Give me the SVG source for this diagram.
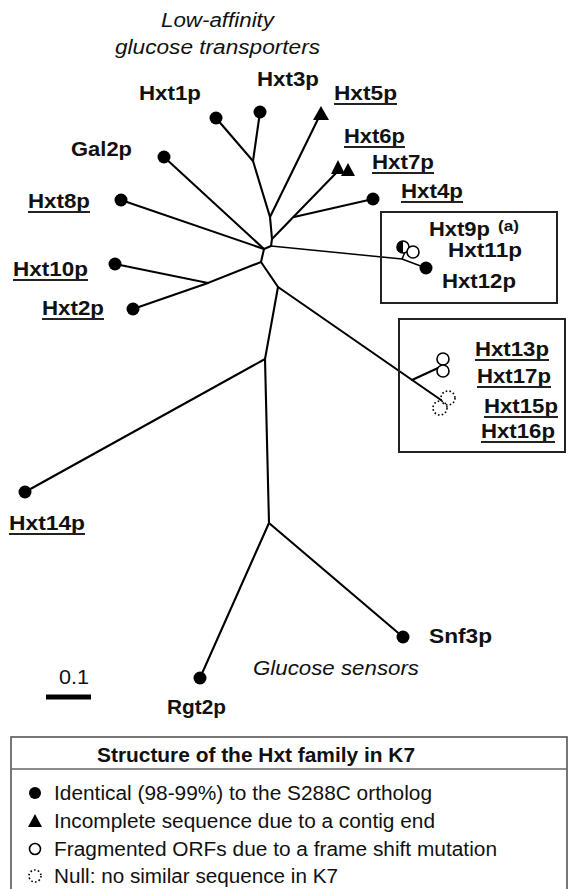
<svg xmlns="http://www.w3.org/2000/svg" width="568" height="889" viewBox="0 0 568 889">
<style>
text{font-family:"Liberation Sans",Arial,sans-serif;fill:#111}
.b{font-weight:bold;font-size:20.5px}
.it{font-style:italic;font-size:20.5px}
.lg{font-size:20px}
.br{stroke:#000;stroke-width:2.1;fill:none;stroke-linecap:round}
.thin{stroke:#000;stroke-width:1.5;fill:none}
.ul{stroke:#222;stroke-width:1.8}
.dot{fill:#000}
.open{fill:#fff;stroke:#000;stroke-width:1.6}
.null{fill:none;stroke:#000;stroke-width:1.6;stroke-dasharray:1.6 2.2}
.tri{fill:#000}
.box{fill:none;stroke:#222;stroke-width:2}
</style>
<rect width="568" height="889" fill="#fff"/>
<g id="captions">
<text class="it" x="161" y="27" textLength="113" lengthAdjust="spacingAndGlyphs">Low-affinity</text>
<text class="it" x="115" y="54" textLength="205" lengthAdjust="spacingAndGlyphs">glucose transporters</text>
<text class="it" x="253" y="675" textLength="166" lengthAdjust="spacingAndGlyphs">Glucose sensors</text>
</g>
<g id="connectors">
<polyline class="br" points="264,249 271,246 272,239 270,217 253,161 216,118"/>
<line class="br" x1="253" y1="161" x2="260" y2="112"/>
<line class="br" x1="270" y1="217" x2="320" y2="115"/>
<line class="br" x1="272" y1="239" x2="339" y2="170"/>
<line class="br" x1="294" y1="217" x2="373" y2="199"/>
<line class="br" x1="264" y1="249" x2="164" y2="157"/>
<line class="br" x1="264" y1="249" x2="121" y2="200"/>
<polyline class="br" points="264,249 261,262 208,283 115,264"/>
<line class="br" x1="208" y1="283" x2="133" y2="309"/>
<polyline class="br" points="261,262 278,287 265,359 269,523 403,637"/>
<line class="br" x1="269" y1="523" x2="200" y2="678"/>
<line class="br" x1="265" y1="359" x2="25" y2="492"/>
<line class="br" x1="278" y1="287" x2="441" y2="400"/>
<line class="br" x1="412" y1="380" x2="438" y2="368"/>
<polyline class="thin" points="271,246 402,259 426,268"/>
<line class="thin" x1="402" y1="259" x2="405" y2="252"/>
</g>
<g id="Hxt1p"><circle class="dot" cx="216" cy="118" r="6.5"/><text class="b" x="139" y="100" textLength="62" lengthAdjust="spacingAndGlyphs">Hxt1p</text></g>
<g id="Hxt3p"><circle class="dot" cx="260" cy="112" r="6.5"/><text class="b" x="257" y="86" textLength="62" lengthAdjust="spacingAndGlyphs">Hxt3p</text></g>
<g id="Hxt5p"><polygon class="tri" points="321,106 313,120 329,120"/><text class="b" x="334" y="100" textLength="63" lengthAdjust="spacingAndGlyphs">Hxt5p</text><line class="ul" x1="334" y1="104" x2="397" y2="104"/></g>
<g id="Gal2p"><circle class="dot" cx="164" cy="157" r="6.5"/><text class="b" x="71" y="156" textLength="61" lengthAdjust="spacingAndGlyphs">Gal2p</text></g>
<g id="Hxt8p"><circle class="dot" cx="121" cy="200" r="6.5"/><text class="b" x="28" y="208" textLength="62" lengthAdjust="spacingAndGlyphs">Hxt8p</text><line class="ul" x1="28" y1="212" x2="90" y2="212"/></g>
<g id="Hxt6p"><polygon class="tri" points="338,160 331,174 345,174"/><text class="b" x="344" y="143" textLength="61" lengthAdjust="spacingAndGlyphs">Hxt6p</text><line class="ul" x1="344" y1="147" x2="405" y2="147"/></g>
<g id="Hxt7p"><polygon class="tri" points="348,163 341,176 355,176"/><text class="b" x="372" y="169" textLength="62" lengthAdjust="spacingAndGlyphs">Hxt7p</text><line class="ul" x1="372" y1="173" x2="434" y2="173"/></g>
<g id="Hxt4p"><circle class="dot" cx="373" cy="199" r="6.5"/><text class="b" x="401" y="198" textLength="62" lengthAdjust="spacingAndGlyphs">Hxt4p</text><line class="ul" x1="401" y1="202" x2="463" y2="202"/></g>
<g id="box-Hxt9"><rect class="box" x="381" y="212" width="176" height="91"/></g>
<g id="Hxt9p"><circle class="open" cx="403" cy="247" r="6"/><path class="dot" d="M403,241 A6,6 0 0 0 403,253 Z"/><text class="b" x="429" y="236" textLength="61" lengthAdjust="spacingAndGlyphs">Hxt9p</text><text class="b" x="498" y="231" style="font-size:14px" textLength="21" lengthAdjust="spacingAndGlyphs">(a)</text></g>
<g id="Hxt11p"><circle class="open" cx="413" cy="252" r="6"/><text class="b" x="448" y="257" textLength="74" lengthAdjust="spacingAndGlyphs">Hxt11p</text></g>
<g id="Hxt12p"><circle class="dot" cx="426" cy="268" r="6.5"/><text class="b" x="442" y="288" textLength="74" lengthAdjust="spacingAndGlyphs">Hxt12p</text></g>
<g id="box-Hxt13"><rect class="box" x="399" y="319" width="166" height="133"/></g>
<g id="Hxt13p"><circle class="open" cx="443" cy="359" r="6"/><text class="b" x="475" y="356" textLength="74" lengthAdjust="spacingAndGlyphs">Hxt13p</text><line class="ul" x1="475" y1="360" x2="549" y2="360"/></g>
<g id="Hxt17p"><circle class="open" cx="443" cy="371" r="6"/><text class="b" x="477" y="383" textLength="74" lengthAdjust="spacingAndGlyphs">Hxt17p</text><line class="ul" x1="477" y1="387" x2="551" y2="387"/></g>
<g id="Hxt15p"><circle class="null" cx="448" cy="398" r="7"/><text class="b" x="484" y="413" textLength="74" lengthAdjust="spacingAndGlyphs">Hxt15p</text><line class="ul" x1="484" y1="417" x2="558" y2="417"/></g>
<g id="Hxt16p"><circle class="null" cx="440" cy="408" r="7"/><text class="b" x="481" y="438" textLength="74" lengthAdjust="spacingAndGlyphs">Hxt16p</text><line class="ul" x1="481" y1="442" x2="555" y2="442"/></g>
<g id="Hxt10p"><circle class="dot" cx="115" cy="264" r="6.5"/><text class="b" x="13" y="276" textLength="75" lengthAdjust="spacingAndGlyphs">Hxt10p</text><line class="ul" x1="13" y1="280" x2="88" y2="280"/></g>
<g id="Hxt2p"><circle class="dot" cx="133" cy="309" r="6.5"/><text class="b" x="42" y="315" textLength="62" lengthAdjust="spacingAndGlyphs">Hxt2p</text><line class="ul" x1="42" y1="319" x2="104" y2="319"/></g>
<g id="Hxt14p"><circle class="dot" cx="25" cy="492" r="6.5"/><text class="b" x="9" y="530" textLength="76" lengthAdjust="spacingAndGlyphs">Hxt14p</text><line class="ul" x1="9" y1="534" x2="85" y2="534"/></g>
<g id="Snf3p"><circle class="dot" cx="403" cy="637" r="6.5"/><text class="b" x="429" y="643" textLength="63" lengthAdjust="spacingAndGlyphs">Snf3p</text></g>
<g id="Rgt2p"><circle class="dot" cx="200" cy="678" r="6.5"/><text class="b" x="167" y="714" textLength="59" lengthAdjust="spacingAndGlyphs">Rgt2p</text></g>
<g id="scale"><text class="lg" x="59" y="684" textLength="30" lengthAdjust="spacingAndGlyphs">0.1</text><line x1="46" y1="697" x2="91" y2="697" stroke="#000" stroke-width="5"/></g>
<g id="legend">
<rect x="11" y="737" width="556" height="170" fill="none" stroke="#555" stroke-width="1.6"/>
<line x1="11" y1="769" x2="567" y2="769" stroke="#666" stroke-width="1.6"/>
<text class="lg" x="97" y="762" font-weight="bold" textLength="318" lengthAdjust="spacingAndGlyphs">Structure of the Hxt family in K7</text>
<circle class="dot" cx="35" cy="793" r="6"/>
<text class="lg" x="54" y="800" textLength="378" lengthAdjust="spacingAndGlyphs">Identical (98-99%) to the S288C ortholog</text>
<polygon class="tri" points="35,814 28,827 42,827"/>
<text class="lg" x="54" y="828" textLength="381" lengthAdjust="spacingAndGlyphs">Incomplete sequence due to a contig end</text>
<circle class="open" cx="35" cy="849" r="5.5"/>
<text class="lg" x="54" y="856" textLength="443" lengthAdjust="spacingAndGlyphs">Fragmented ORFs due to a frame shift mutation</text>
<circle class="null" cx="35" cy="876" r="6"/>
<text class="lg" x="54" y="883" textLength="284" lengthAdjust="spacingAndGlyphs">Null: no similar sequence in K7</text>
</g>
</svg>
